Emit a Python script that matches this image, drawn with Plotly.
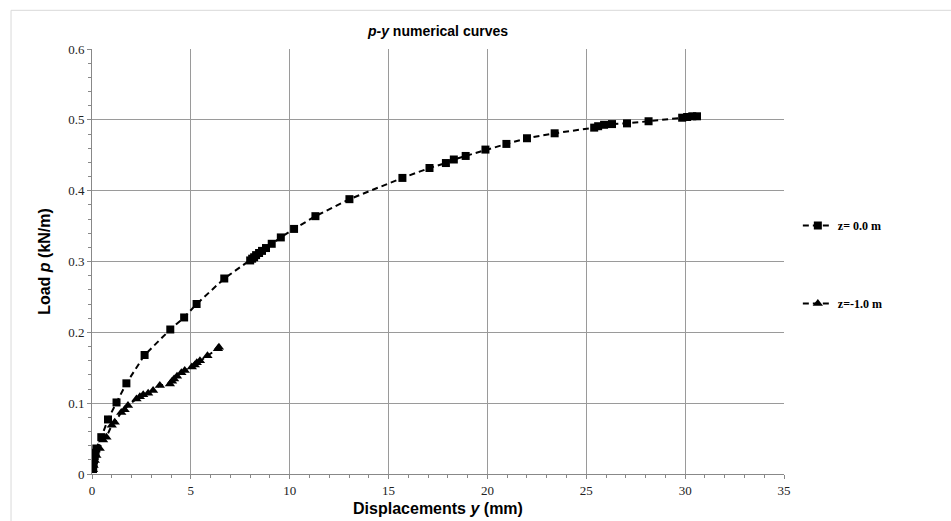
import plotly.graph_objects as go

# z = 0.0 m (squares)
z0_y = [0.05, 0.06, 0.08, 0.10, 0.14, 0.18, 0.22, 0.47, 0.81, 1.24, 1.74, 2.66, 3.96, 4.66, 5.29,
        6.69, 8.0, 8.1, 8.2, 8.3, 8.45, 8.6, 8.8, 9.09, 9.55, 10.22, 11.3, 13.02, 15.7, 17.07,
        17.9, 18.3, 18.9, 19.9, 20.96, 22.0, 23.4, 25.4, 25.6, 25.9, 26.3, 27.06, 28.15,
        29.85, 30.1, 30.36, 30.6]
z0_p = [0.007, 0.010, 0.015, 0.020, 0.025, 0.030, 0.036, 0.052, 0.077, 0.101, 0.128, 0.168, 0.204,
        0.221, 0.240, 0.276, 0.3015, 0.304, 0.306, 0.309, 0.312, 0.315, 0.319, 0.325, 0.334,
        0.346, 0.364, 0.388, 0.418, 0.432, 0.439, 0.444, 0.449, 0.458, 0.466, 0.474, 0.481,
        0.489, 0.491, 0.493, 0.494, 0.495, 0.498, 0.503, 0.504, 0.505, 0.505]

# z = -1.0 m (triangles)
z1_y = [0.05, 0.08, 0.14, 0.22, 0.39, 0.56, 0.73, 1.0, 1.15, 1.48, 1.65, 1.82, 2.25, 2.42, 2.59,
        2.84, 3.09, 3.43, 3.94, 4.05, 4.15, 4.3, 4.52, 4.69, 5.05, 5.2, 5.3, 5.46, 5.84, 6.37, 6.42]
z1_p = [0.006, 0.012, 0.019, 0.026, 0.036, 0.048, 0.052, 0.069, 0.073, 0.087, 0.0907, 0.0967,
        0.106, 0.109, 0.112, 0.114, 0.118, 0.125, 0.127, 0.131, 0.134, 0.138, 0.143, 0.146,
        0.151, 0.154, 0.157, 0.160, 0.167, 0.177, 0.179]

series_names = ["z= 0.0 m", "z=-1.0 m"]

fig = go.Figure()
fig.add_trace(go.Scatter(
    x=z0_y, y=z0_p, mode="lines+markers", name=series_names[0], legendgroup="a",
    line=dict(color="black", width=2, dash="6px,4px"),
    marker=dict(symbol="square", size=8, color="black"),
))
fig.add_trace(go.Scatter(
    x=z1_y, y=z1_p, mode="lines+markers", name=series_names[1], legendgroup="b",
    line=dict(color="black", width=2, dash="6px,4px"),
    marker=dict(symbol="triangle-up", size=9, color="black"),
))

axis_common = dict(
    showline=True, linecolor="#888888", linewidth=1,
    showgrid=True, gridcolor="#9a9a9a", gridwidth=1,
    ticks="outside", ticklen=4, tickcolor="#888888",
    tickfont=dict(family="Liberation Serif", size=13, color="#222222"),
    zeroline=False, mirror=False, automargin=False,
)

fig.update_xaxes(
    range=[0, 35], dtick=5, tick0=0,
    minor=dict(dtick=1, ticks="outside", ticklen=3, tickcolor="#888888", showgrid=False),
    title=dict(text="Displacements <i>y</i> (mm)", standoff=6,
               font=dict(family="Liberation Sans", size=16, color="black", weight="bold")),
    **axis_common,
)
fig.update_yaxes(
    range=[0, 0.6], dtick=0.1, tick0=0,
    minor=dict(dtick=0.02, ticks="outside", ticklen=3, tickcolor="#888888", showgrid=False),
    title=dict(text="Load <i>p</i> (kN/m)", standoff=13,
               font=dict(family="Liberation Sans", size=16, color="black", weight="bold")),
    **axis_common,
)

fig.update_layout(
    width=951, height=521,
    margin=dict(l=92, r=167, t=49, b=47),
    paper_bgcolor="white", plot_bgcolor="white",
    title=dict(text="<b><i>p-y</i> numerical curves</b>", x=0.5, xref="paper", xanchor="center",
               y=1 - 31 / 521, yanchor="middle", yref="container",
               font=dict(family="Liberation Sans", size=14, color="black")),
    font=dict(family="Liberation Sans", color="black"),
    showlegend=True,
    legend=dict(x=1.02, xanchor="left", y=0.619, yanchor="top",
                tracegroupgap=59, bgcolor="rgba(0,0,0,0)",
                font=dict(family="Liberation Serif", size=12, color="black", weight="bold")),
    shapes=[
        dict(type="line", xref="paper", yref="paper", x0=-0.117, x1=1.25, y0=1.091, y1=1.091,
             line=dict(color="#d9d9d9", width=1)),
        dict(type="line", xref="paper", yref="paper", x0=-0.117, x1=-0.117, y0=1.091, y1=-0.12,
             line=dict(color="#d9d9d9", width=1)),
    ],
)

fig.write_html("out.html")
